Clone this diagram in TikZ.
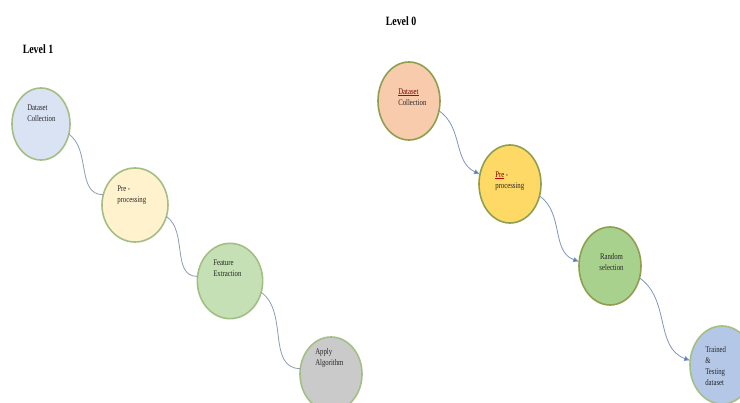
\documentclass[tikz,border=0pt]{standalone}
\usepackage{fontspec}
\setmainfont{Liberation Serif}
\usetikzlibrary{shapes.geometric,arrows.meta}
\definecolor{fillA}{HTML}{DAE3F3}
\definecolor{fillB}{HTML}{FFF2CC}
\definecolor{fillC}{HTML}{C5E0B4}
\definecolor{fillD}{HTML}{CACACA}
\definecolor{fillE}{HTML}{F8CBAD}
\definecolor{fillF}{HTML}{FFD966}
\definecolor{fillG}{HTML}{A9D18E}
\definecolor{fillH}{HTML}{B4C7E7}
\definecolor{rimL}{HTML}{A3BF85}
\definecolor{rimR}{HTML}{8E9F4E}
\definecolor{lineL}{HTML}{8C9DB5}
\definecolor{lineR}{HTML}{7E96BE}
\definecolor{tipR}{HTML}{4472C4}
\definecolor{txt}{HTML}{262626}
\newcommand\lbltab[2][l]{\scalebox{0.78}[1]{\fontsize{6.5}{8.2}\selectfont\begin{tabular}{@{}#1@{}}#2\end{tabular}}}
\newcommand\redul[1]{\setbox0\hbox{#1}\rlap{\color{red!75!black}\rule[-1.3pt]{\wd0}{0.5pt}}\textcolor{red!45!black}{#1}}
\tikzset{
  bub/.style={ellipse, draw=#1, line width=1.2pt, inner sep=0pt, outer sep=0pt},
  lbl/.style={anchor=west, inner sep=0pt, text=txt},
  lvl/.style={inner sep=0pt, text=black},
  connL/.style={draw=lineL, line width=0.6pt},
  connR/.style={draw=lineR, line width=0.6pt, -{Latex[length=4.5pt,width=4pt,fill=tipR]}},
}
\begin{document}
\begin{tikzpicture}[x=0.75pt,y=-0.75pt]
\useasboundingbox (0,0) rectangle (740,403);
\clip (0,0) rectangle (740,403);
\fill[white] (0,0) rectangle (740,403);

% titles
\node[lvl] (t1) at (38,49) {\scalebox{0.78}[1]{\fontsize{9.5}{11}\selectfont\bfseries Level 1}};
\node[lvl] (t0) at (401,21) {\scalebox{0.78}[1]{\fontsize{9.5}{11}\selectfont\bfseries Level 0}};

% Level 1 ellipses
\node[bub=rimL, fill=fillA, minimum width=43.5pt, minimum height=54pt] (L1) at (41,124) {};
\node[bub=rimL, fill=fillB, minimum width=49.5pt, minimum height=55.5pt] (L2) at (135,205) {};
\node[bub=rimL, fill=fillC, minimum width=49pt, minimum height=56.5pt] (L3) at (230,281) {};
\node[bub=rimL, fill=fillD, minimum width=46.5pt, minimum height=55.5pt] (L4) at (331,374) {};

% Level 0 ellipses
\node[bub=rimR, fill=fillE, minimum width=46.5pt, minimum height=58.5pt] (R1) at (409,101) {};
\node[bub=rimR, fill=fillF, minimum width=46.5pt, minimum height=58.5pt] (R2) at (510,184) {};
\node[bub=rimR, fill=fillG, minimum width=46.5pt, minimum height=58.5pt] (R3) at (610,266) {};
\node[bub=rimL, fill=fillH, minimum width=48pt, minimum height=58.5pt] (R4) at (722,365) {};

% labels
\node[lbl] (l1) at (27,113.5) {\lbltab{Dataset\\Collection}};
\node[lbl] (l2) at (117,194.5) {\lbltab{Pre -\\processing}};
\node[lbl] (l3) at (213,268.5) {\lbltab{Feature\\Extraction}};
\node[lbl] (l4) at (315,357.5) {\lbltab{Apply\\Algorithm}};
\node[lbl] (r1) at (398,97.5) {\lbltab{\redul{Dataset}\\Collection}};
\node[lbl] (r2) at (495,180.5) {\lbltab{\redul{Pre} -\\processing}};
\node[anchor=center, inner sep=0pt, text=txt] (r3) at (611.5,262.5) {\lbltab[c]{Random\\selection}};
\node[lbl] (r4) at (705,367) {\lbltab{Trained\\\&\\Testing\\dataset}};

% connectors level 1
\draw[connL] (L1.-20) to[out=-35,in=180] (L2.162);
\draw[connL] (L2.-20) to[out=-35,in=180] (L3.172);
\draw[connL] (L3.-20) to[out=-35,in=180] (L4.170);

% connectors level 0
\draw[connR] (R1.-18) to[out=-35,in=155] (R2.162);
\draw[connR] (R2.-22) to[out=-35,in=160] (R3.172);
\draw[connR] (R3.-22) to[out=-35,in=160] (R4.172);
\end{tikzpicture}
\end{document}
